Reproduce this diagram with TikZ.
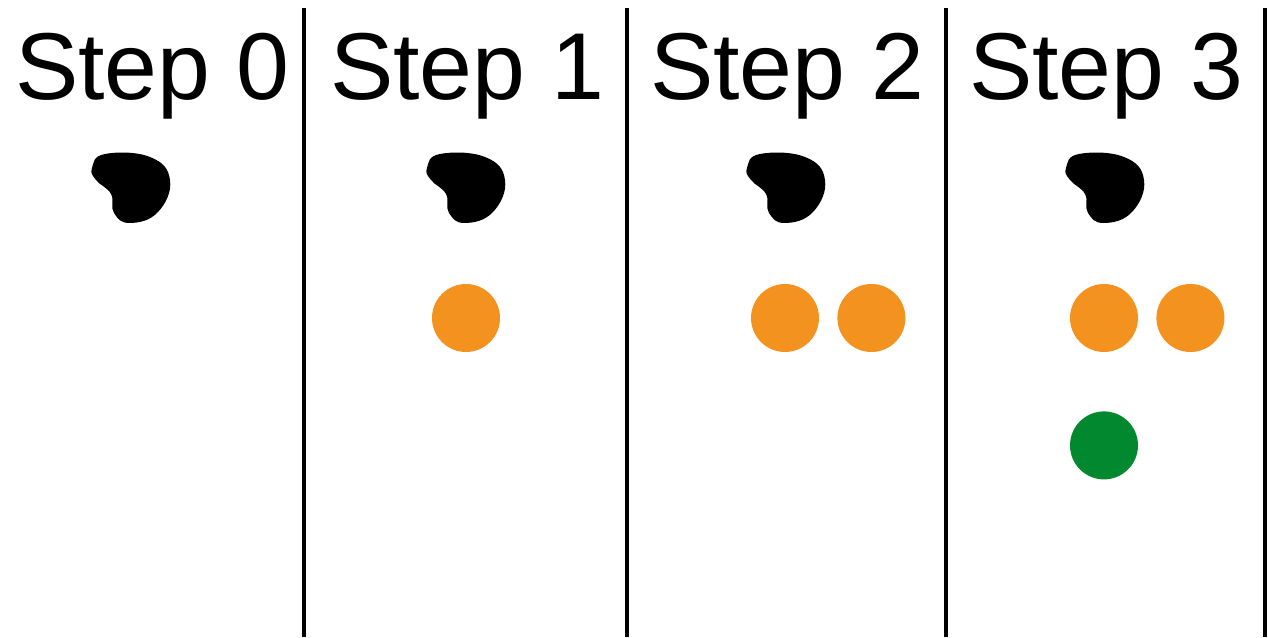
\documentclass[tikz,border=0pt]{standalone}
\usepackage{fontspec}
\setmainfont{Liberation Sans}
\usetikzlibrary{positioning}
\definecolor{dotorange}{HTML}{F3921E}
\definecolor{dotgreen}{HTML}{02882F}

\begin{document}
\begin{tikzpicture}[x=1pt,y=1pt,
 steplabel/.style={anchor=base west,inner sep=0pt,font=\fontsize{95}{100}\selectfont},
 divider/.style={line width=4pt,draw=black},
 dot/.style={circle,inner sep=0pt,minimum size=68pt},
 blob/.pic={\fill[black] plot[smooth cycle,tension=.75] coordinates
   {(-39,20) (-26,34) (19,31) (39,8) (27,-24) (-1,-35) (-17,-25) (-20,-6) (-35,8)};}]
\useasboundingbox (0,0) rectangle (1268,637);
% step titles
\node[steplabel] (s0) at (15,537) {Step 0};
\node[steplabel] (s1) at (330,537) {Step 1};
\node[steplabel] (s2) at (650,537) {Step 2};
\node[steplabel] (s3) at (969,537) {Step 3};
% dividers
\foreach \xx in {304,627,946,1265}
  \draw[divider] (\xx,629) -- (\xx,0);
% blobs
\foreach \xx in {131,466,786,1105}
  \pic at (\xx,449) {blob};
% dots
\node[dot,fill=dotorange] (o1) at (466,319) {};
\node[dot,fill=dotorange] (o2a) at (785,319) {};
\node[dot,fill=dotorange,right=18pt of o2a] (o2b) {};
\node[dot,fill=dotorange] (o3a) at (1104,319) {};
\node[dot,fill=dotorange,right=18pt of o3a] (o3b) {};
\node[dot,fill=dotgreen,below=59pt of o3a] (g3) {};
\end{tikzpicture}
\end{document}
